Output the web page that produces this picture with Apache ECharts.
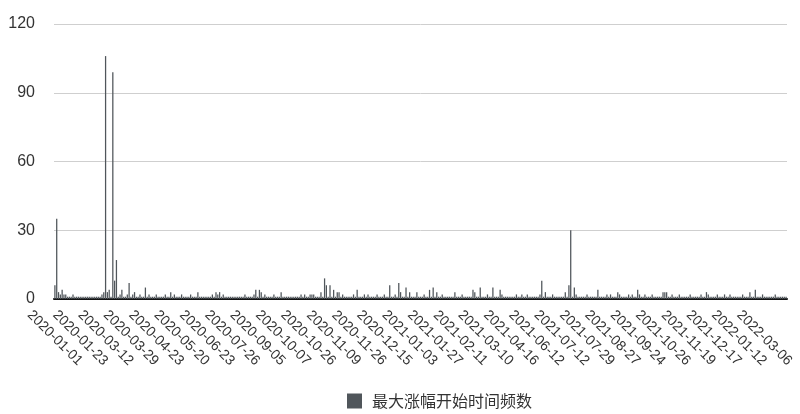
<!DOCTYPE html>
<html>
<head>
<meta charset="utf-8">
<script src="https://cdn.jsdelivr.net/npm/echarts@6/dist/echarts.min.js"></script>
<style>
html,body{margin:0;padding:0;background:#fff;}
#chart{width:800px;height:414px;}
</style>
</head>
<body>
<div id="chart"></div>
<script>
var seriesName = '最大涨幅开始时间频数';

var yTicks = [0, 30, 60, 90, 120];

var categories = [
'2020-01-01','2020-01-02','2020-01-03','2020-01-06','2020-01-07','2020-01-08','2020-01-09','2020-01-10','2020-01-13','2020-01-14','2020-01-15','2020-01-16','2020-01-17','2020-01-20',
'2020-01-23','2020-01-26','2020-01-31','2020-02-03','2020-02-07','2020-02-11','2020-02-14','2020-02-18','2020-02-21','2020-02-25','2020-02-28','2020-03-03','2020-03-06','2020-03-09',
'2020-03-12','2020-03-13','2020-03-14','2020-03-15','2020-03-16','2020-03-17','2020-03-18','2020-03-19','2020-03-20','2020-03-21','2020-03-23','2020-03-24','2020-03-25','2020-03-26',
'2020-03-29','2020-03-30','2020-03-31','2020-04-01','2020-04-02','2020-04-03','2020-04-07','2020-04-08','2020-04-09','2020-04-10','2020-04-14','2020-04-15','2020-04-17','2020-04-20',
'2020-04-23','2020-04-24','2020-04-27','2020-04-28','2020-04-29','2020-04-30','2020-05-06','2020-05-07','2020-05-08','2020-05-11','2020-05-12','2020-05-13','2020-05-15','2020-05-18',
'2020-05-20','2020-05-21','2020-05-22','2020-05-25','2020-05-27','2020-05-29','2020-06-01','2020-06-03','2020-06-05','2020-06-08','2020-06-10','2020-06-12','2020-06-16','2020-06-19',
'2020-06-23','2020-06-24','2020-06-29','2020-07-01','2020-07-03','2020-07-06','2020-07-08','2020-07-10','2020-07-13','2020-07-15','2020-07-17','2020-07-20','2020-07-22','2020-07-24',
'2020-07-26','2020-07-28','2020-07-31','2020-08-03','2020-08-06','2020-08-10','2020-08-13','2020-08-17','2020-08-20','2020-08-24','2020-08-26','2020-08-28','2020-08-31','2020-09-02',
'2020-09-05','2020-09-07','2020-09-09','2020-09-11','2020-09-14','2020-09-16','2020-09-18','2020-09-21','2020-09-23','2020-09-25','2020-09-28','2020-09-30','2020-10-02','2020-10-05',
'2020-10-07','2020-10-08','2020-10-09','2020-10-10','2020-10-12','2020-10-13','2020-10-14','2020-10-15','2020-10-16','2020-10-19','2020-10-20','2020-10-21','2020-10-22','2020-10-23',
'2020-10-26','2020-10-27','2020-10-28','2020-10-29','2020-10-30','2020-10-31','2020-11-01','2020-11-02','2020-11-03','2020-11-04','2020-11-05','2020-11-06','2020-11-07','2020-11-08',
'2020-11-09','2020-11-10','2020-11-11','2020-11-12','2020-11-13','2020-11-14','2020-11-16','2020-11-17','2020-11-18','2020-11-19','2020-11-20','2020-11-23','2020-11-24','2020-11-25',
'2020-11-26','2020-11-27','2020-11-30','2020-12-01','2020-12-02','2020-12-03','2020-12-04','2020-12-07','2020-12-08','2020-12-09','2020-12-10','2020-12-11','2020-12-13','2020-12-14',
'2020-12-15','2020-12-16','2020-12-17','2020-12-18','2020-12-21','2020-12-22','2020-12-23','2020-12-24','2020-12-25','2020-12-28','2020-12-29','2020-12-30','2020-12-31','2021-01-02',
'2021-01-03','2021-01-04','2021-01-05','2021-01-06','2021-01-07','2021-01-08','2021-01-11','2021-01-12','2021-01-13','2021-01-15','2021-01-18','2021-01-20','2021-01-22','2021-01-25',
'2021-01-27','2021-01-28','2021-01-29','2021-01-30','2021-02-01','2021-02-02','2021-02-03','2021-02-04','2021-02-05','2021-02-06','2021-02-07','2021-02-08','2021-02-09','2021-02-10',
'2021-02-11','2021-02-18','2021-02-19','2021-02-20','2021-02-22','2021-02-23','2021-02-24','2021-02-25','2021-02-26','2021-03-01','2021-03-02','2021-03-03','2021-03-05','2021-03-08',
'2021-03-10','2021-03-12','2021-03-15','2021-03-17','2021-03-19','2021-03-22','2021-03-24','2021-03-26','2021-03-30','2021-04-01','2021-04-06','2021-04-08','2021-04-12','2021-04-14',
'2021-04-16','2021-04-20','2021-04-23','2021-04-27','2021-04-30','2021-05-07','2021-05-11','2021-05-14','2021-05-19','2021-05-24','2021-05-27','2021-06-01','2021-06-04','2021-06-09',
'2021-06-12','2021-06-15','2021-06-17','2021-06-19','2021-06-22','2021-06-24','2021-06-26','2021-06-29','2021-07-01','2021-07-03','2021-07-05','2021-07-07','2021-07-08','2021-07-09',
'2021-07-12','2021-07-13','2021-07-14','2021-07-15','2021-07-16','2021-07-17','2021-07-19','2021-07-20','2021-07-21','2021-07-22','2021-07-23','2021-07-26','2021-07-27','2021-07-28',
'2021-07-29','2021-07-30','2021-08-02','2021-08-04','2021-08-06','2021-08-09','2021-08-11','2021-08-13','2021-08-16','2021-08-18','2021-08-20','2021-08-23','2021-08-24','2021-08-25',
'2021-08-27','2021-08-30','2021-08-31','2021-09-01','2021-09-03','2021-09-06','2021-09-08','2021-09-10','2021-09-13','2021-09-14','2021-09-15','2021-09-17','2021-09-20','2021-09-22',
'2021-09-24','2021-09-26','2021-09-28','2021-09-30','2021-10-08','2021-10-11','2021-10-12','2021-10-13','2021-10-15','2021-10-18','2021-10-19','2021-10-20','2021-10-22','2021-10-25',
'2021-10-26','2021-10-27','2021-10-28','2021-10-29','2021-11-01','2021-11-02','2021-11-03','2021-11-04','2021-11-08','2021-11-10','2021-11-11','2021-11-15','2021-11-16','2021-11-18',
'2021-11-19','2021-11-22','2021-11-23','2021-11-24','2021-11-26','2021-11-29','2021-12-01','2021-12-02','2021-12-06','2021-12-08','2021-12-09','2021-12-13','2021-12-14','2021-12-15',
'2021-12-17','2021-12-20','2021-12-21','2021-12-22','2021-12-24','2021-12-27','2021-12-28','2021-12-29','2021-12-31','2022-01-04','2022-01-05','2022-01-06','2022-01-07','2022-01-10',
'2022-01-12','2022-01-14','2022-01-17','2022-01-19','2022-01-21','2022-01-24','2022-01-26','2022-01-28','2022-02-08','2022-02-10','2022-02-14','2022-02-17','2022-02-22','2022-02-28',
'2022-03-06','2022-03-07','2022-03-08','2022-03-09','2022-03-10','2022-03-11','2022-03-14','2022-03-15','2022-03-16','2022-03-17','2022-03-18','2022-03-21','2022-03-22'
];

var counts = [
6,35,3,2,4,2,2,1,1,1,2,1,1,1,
1,1,1,1,1,1,1,1,1,1,1,1,2,3,
106,3,4,1,99,8,17,1,2,4,1,1,2,7,
1,2,3,1,1,2,1,1,5,1,2,1,1,1,
2,1,1,1,1,2,1,1,3,1,2,1,1,1,
2,1,1,1,1,2,1,1,1,3,1,1,1,1,
1,1,1,2,1,3,2,3,1,2,1,1,1,1,
1,1,1,1,1,1,1,2,1,1,1,1,2,4,
1,4,3,1,2,1,1,1,1,2,1,1,1,3,
1,1,1,1,1,1,1,1,1,1,2,1,2,1,
1,2,2,2,1,1,1,3,1,9,6,1,6,1,
4,1,3,3,1,2,1,1,1,1,1,2,1,4,
1,1,1,2,1,2,1,1,1,1,2,1,1,1,
2,1,1,6,1,1,2,1,7,3,1,1,5,1,
3,1,1,1,3,1,1,1,2,1,1,4,1,5,
1,3,1,1,2,1,1,1,1,1,1,3,1,1,
1,2,1,1,1,1,1,4,3,1,1,5,1,1,
1,2,1,1,5,1,1,1,4,2,1,1,1,1,
1,1,1,2,1,1,2,1,1,2,1,1,1,1,
1,1,2,8,1,3,1,1,1,2,1,1,1,1,
1,1,3,1,6,30,1,5,2,1,1,1,1,1,
2,1,1,1,1,1,4,1,1,1,1,2,1,2,
1,1,1,3,2,1,1,1,1,2,1,2,1,1,
4,2,1,1,2,1,1,1,2,1,1,1,1,1,
3,3,3,1,1,2,1,1,1,2,1,1,1,1,
1,2,1,1,1,1,1,2,1,1,3,2,1,1,
1,1,2,1,1,1,2,1,1,2,1,1,1,1,
1,1,2,1,1,1,3,1,1,4,1,1,1,2,
1,1,1,1,1,1,2,1,1,1,1,1,1
];

var chart = echarts.init(document.getElementById('chart'), null, {renderer: 'canvas'});
var fontFam = '"Liberation Sans", Arial, "Noto Sans CJK SC", sans-serif';
chart.setOption({
  animation: false,
  backgroundColor: '#ffffff',
  textStyle: {fontFamily: fontFam},
  grid: {left: 54, right: 13, top: 24, bottom: 115, containLabel: false},
  legend: {
    data: [seriesName],
    left: 342,
    top: 388,
    itemWidth: 15,
    itemHeight: 15,
    icon: 'rect',
    textStyle: {fontSize: 16, color: '#333', fontFamily: '"Noto Sans CJK SC", sans-serif', padding: [0, 0, 0, 5]}
  },
  xAxis: {
    type: 'category',
    data: categories,
    axisLine: {show: true, lineStyle: {color: '#111', width: 2}},
    axisTick: {show: false},
    splitLine: {show: false},
    axisLabel: {
      interval: 13,
      rotate: -45,
      align: 'center',
      verticalAlign: 'middle',
      margin: 39,
      fontSize: 14,
      color: '#333',
      fontFamily: fontFam
    }
  },
  yAxis: {
    type: 'value',
    min: yTicks[0],
    max: yTicks[yTicks.length - 1],
    interval: yTicks[1] - yTicks[0],
    axisLine: {show: false},
    axisTick: {show: false},
    splitLine: {show: true, lineStyle: {color: '#cfcfcf', width: 1}},
    axisLabel: {fontSize: 16, color: '#333', margin: 19, fontFamily: fontFam}
  },
  series: [{
    name: seriesName,
    type: 'bar',
    data: counts,
    barCategoryGap: '30%',
    itemStyle: {color: '#50565b'}
  }]
});
</script>
</body>
</html>
